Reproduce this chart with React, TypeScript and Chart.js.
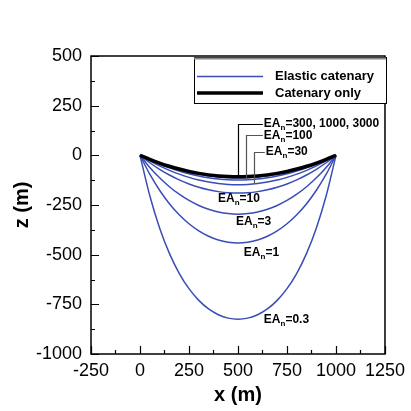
import React, { useEffect, useRef } from "react";
import { Chart, registerables } from "chart.js";

Chart.register(...registerables);

const FONT = "'Liberation Sans', Arial, Helvetica, sans-serif";
const BLUE = "#3a4db5";

const xPositions = [0, 50, 100, 150, 200, 250, 300, 350, 400, 450, 500, 550, 600, 650, 700, 750, 800, 850, 900, 950, 1000];

const zCatenaryOnly = [0, -20.5, -38.9, -55.1, -69.1, -81, -90.7, -98.3, -103.7, -106.9, -108, -106.9, -103.7, -98.3, -90.7, -81, -69.1, -55.1, -38.9, -20.5, 0];
const zEA3000 = [0, -20.6, -39.1, -55.3, -69.4, -81.4, -91.1, -98.7, -104.2, -107.4, -108.5, -107.4, -104.2, -98.7, -91.1, -81.4, -69.4, -55.3, -39.1, -20.6, 0];
const zEA1000 = [0, -20.9, -39.6, -56.1, -70.4, -82.5, -92.4, -100.1, -105.6, -108.9, -110, -108.9, -105.6, -100.1, -92.4, -82.5, -70.4, -56.1, -39.6, -20.9, 0];
const zEA300 = [0, -21.7, -41, -58.1, -73, -85.5, -95.8, -103.7, -109.4, -112.9, -114, -112.9, -109.4, -103.7, -95.8, -85.5, -73, -58.1, -41, -21.7, 0];
const zEA100 = [0, -23.6, -44.6, -63.2, -79.4, -93, -104.2, -112.8, -119, -122.8, -124, -122.8, -119, -112.8, -104.2, -93, -79.4, -63.2, -44.6, -23.6, 0];
const zEA30 = [0, -28.1, -53.3, -75.5, -94.7, -111, -124.3, -134.7, -142.1, -146.5, -148, -146.5, -142.1, -134.7, -124.3, -111, -94.7, -75.5, -53.3, -28.1, 0];
const zEA10 = [0, -37.3, -70.2, -98.9, -123.4, -144, -160.7, -173.6, -182.7, -188.2, -190, -188.2, -182.7, -173.6, -160.7, -144, -123.4, -98.9, -70.2, -37.3, 0];
const zEA3 = [0, -60.7, -113.1, -157.9, -195.8, -227.2, -252.3, -271.6, -285.2, -293.3, -296, -293.3, -285.2, -271.6, -252.3, -227.2, -195.8, -157.9, -113.1, -60.7, 0];
const zEA1 = [0, -95.1, -175.8, -243.3, -299.1, -344.4, -380.2, -407.2, -426.1, -437.3, -441, -437.3, -426.1, -407.2, -380.2, -344.4, -299.1, -243.3, -175.8, -95.1, 0];
const zEA03 = [0, -203.5, -365.4, -493.3, -593.6, -671.2, -730.1, -773.1, -802.4, -819.4, -825, -819.4, -802.4, -773.1, -730.1, -671.2, -593.6, -493.3, -365.4, -203.5, 0];

const elasticSeries = [zEA3000, zEA1000, zEA300, zEA100, zEA30, zEA10, zEA3, zEA1, zEA03];

const xTicks = [-250, 0, 250, 500, 750, 1000, 1250];
const yTicks = [-1000, -750, -500, -250, 0, 250, 500];

const legendLabels = ["Elastic catenary", "Catenary only"];
const xTitle = "x (m)";
const yTitle = "z (m)";

// EA_n annotation labels: suffix, text anchor (data coords), optional leader (x, end z)
const eaSuffixes = ["300, 1000, 3000", "100", "30", "10", "3", "1", "0.3"];
const eaTextX = [632, 632, 642, 398, 490, 530, 632];
const eaTextZ = [157, 100, 16, -219, -335, -492, -829];
const eaLeaderX = [500, 540, 581, null, null, null, null];
const eaLeaderEndZ = [-108, -123, -144, null, null, null, null];

function toPts(zs: number[]) {
  return xPositions.map((x, i) => ({ x, y: zs[i] }));
}

const decorPlugin = {
  id: "decor",
  afterDraw(chart: any) {
    const { ctx, chartArea, scales } = chart;
    const { left, right, top, bottom } = chartArea;
    const xs = scales.x;
    const ys = scales.y;
    ctx.save();

    // frame
    ctx.strokeStyle = "#000";
    ctx.lineWidth = 1.5;
    ctx.strokeRect(left, top, right - left, bottom - top);

    // ticks (inward)
    ctx.lineWidth = 1.2;
    ctx.beginPath();
    for (let i = 0; i < xTicks.length; i++) {
      const p = Math.round(xs.getPixelForValue(xTicks[i])) + 0.5;
      ctx.moveTo(p, bottom);
      ctx.lineTo(p, bottom - 8);
      if (i < xTicks.length - 1) {
        const m = Math.round(xs.getPixelForValue((xTicks[i] + xTicks[i + 1]) / 2)) + 0.5;
        ctx.moveTo(m, bottom);
        ctx.lineTo(m, bottom - 4);
      }
    }
    for (let i = 0; i < yTicks.length; i++) {
      const p = Math.round(ys.getPixelForValue(yTicks[i])) + 0.5;
      ctx.moveTo(left, p);
      ctx.lineTo(left + 8, p);
      if (i < yTicks.length - 1) {
        const m = Math.round(ys.getPixelForValue((yTicks[i] + yTicks[i + 1]) / 2)) + 0.5;
        ctx.moveTo(left, m);
        ctx.lineTo(left + 4, m);
      }
    }
    ctx.stroke();

    // axis titles
    ctx.fillStyle = "#000";
    ctx.font = `bold 20px ${FONT}`;
    ctx.textAlign = "center";
    ctx.textBaseline = "middle";
    ctx.fillText(xTitle, (left + right) / 2, 395);
    ctx.save();
    ctx.translate(22, (top + bottom) / 2);
    ctx.rotate(-Math.PI / 2);
    ctx.fillText(yTitle, 0, 0);
    ctx.restore();

    // EA_n labels
    for (let i = 0; i < eaSuffixes.length; i++) {
      const tx = xs.getPixelForValue(eaTextX[i]);
      const ty = ys.getPixelForValue(eaTextZ[i]);
      const lx = eaLeaderX[i];
      const lz = eaLeaderEndZ[i];
      if (lx !== null && lz !== null) {
        const px = Math.round(xs.getPixelForValue(lx)) + 0.5;
        const pyEnd = ys.getPixelForValue(lz);
        ctx.strokeStyle = i === 0 ? "#000" : "#555";
        ctx.lineWidth = 1.2;
        ctx.beginPath();
        ctx.moveTo(tx - 1, Math.round(ty) + 0.5);
        ctx.lineTo(px, Math.round(ty) + 0.5);
        ctx.lineTo(px, pyEnd);
        ctx.stroke();
      }
      ctx.fillStyle = "#000";
      ctx.textAlign = "left";
      ctx.textBaseline = "middle";
      ctx.font = `bold 12px ${FONT}`;
      ctx.fillText("EA", tx, ty);
      const w1 = ctx.measureText("EA").width;
      ctx.font = `bold 8px ${FONT}`;
      ctx.fillText("n", tx + w1, ty + 4);
      const w2 = ctx.measureText("n").width;
      ctx.font = `bold 12px ${FONT}`;
      ctx.fillText("=" + eaSuffixes[i], tx + w1 + w2, ty);
    }

    // legend box
    const bx = 194, by = 57, bw = 192, bh = 46;
    ctx.fillStyle = "#fff";
    ctx.fillRect(bx, by, bw, bh);
    ctx.strokeStyle = "#000";
    ctx.lineWidth = 1;
    ctx.strokeRect(bx + 0.5, by + 0.5, bw, bh);
    ctx.strokeStyle = "#888";
    ctx.lineWidth = 2;
    ctx.beginPath();
    ctx.moveTo(bx, by + 1.5);
    ctx.lineTo(bx + bw, by + 1.5);
    ctx.stroke();

    ctx.strokeStyle = BLUE;
    ctx.lineWidth = 1.5;
    ctx.beginPath();
    ctx.moveTo(197, 76.5);
    ctx.lineTo(263, 76.5);
    ctx.stroke();
    ctx.strokeStyle = "#000";
    ctx.lineWidth = 3.5;
    ctx.beginPath();
    ctx.moveTo(197, 93);
    ctx.lineTo(263, 93);
    ctx.stroke();

    ctx.fillStyle = "#000";
    ctx.font = `bold 13px ${FONT}`;
    ctx.textAlign = "left";
    ctx.textBaseline = "middle";
    ctx.fillText(legendLabels[0], 275, 76);
    ctx.fillText(legendLabels[1], 275, 93);

    ctx.restore();
  },
};

export default function App() {
  const ref = useRef<HTMLCanvasElement>(null);

  useEffect(() => {
    document.body.style.margin = "0";
    const canvas = ref.current;
    if (!canvas) return;

    const datasets: any[] = [
      {
        label: legendLabels[1],
        data: toPts(zCatenaryOnly),
        borderColor: "#000",
        borderWidth: 3.5,
        pointRadius: 0,
        cubicInterpolationMode: "monotone",
        fill: false,
      },
      ...elasticSeries.map((zs, i) => ({
        label: i === 0 ? legendLabels[0] : "",
        data: toPts(zs),
        borderColor: BLUE,
        borderWidth: 1.5,
        pointRadius: 0,
        cubicInterpolationMode: "monotone",
        fill: false,
      })),
    ];

    const chart = new Chart(canvas, {
      type: "line",
      data: { datasets },
      options: {
        animation: false,
        responsive: false,
        devicePixelRatio: 1,
        layout: { padding: { left: 0, right: 24, top: 56, bottom: 0 } },
        plugins: { legend: { display: false }, tooltip: { enabled: false }, title: { display: false } },
        scales: {
          x: {
            type: "linear",
            min: -250,
            max: 1250,
            afterBuildTicks: (s: any) => {
              s.ticks = xTicks.map((v) => ({ value: v }));
            },
            afterFit: (s: any) => {
              s.height = 57;
            },
            ticks: {
              padding: 6,
              color: "#000",
              font: { family: FONT, size: 18 },
              maxRotation: 0,
              autoSkip: false,
              callback: (v: any) => String(v),
            },
            grid: { display: false, drawTicks: false },
            border: { display: false },
          },
          y: {
            type: "linear",
            min: -1000,
            max: 500,
            afterBuildTicks: (s: any) => {
              s.ticks = yTicks.map((v) => ({ value: v }));
            },
            afterFit: (s: any) => {
              s.width = 91;
            },
            ticks: {
              padding: 9,
              color: "#000",
              font: { family: FONT, size: 18 },
              autoSkip: false,
              callback: (v: any) => String(v),
            },
            grid: { display: false, drawTicks: false },
            border: { display: false },
          },
        },
      },
      plugins: [decorPlugin],
    });

    return () => chart.destroy();
  }, []);

  return (
    <div style={{ position: "absolute", left: 0, top: 0, width: 411, height: 411, background: "#fff" }}>
      <canvas ref={ref} width={411} height={411} style={{ display: "block" }} />
    </div>
  );
}
